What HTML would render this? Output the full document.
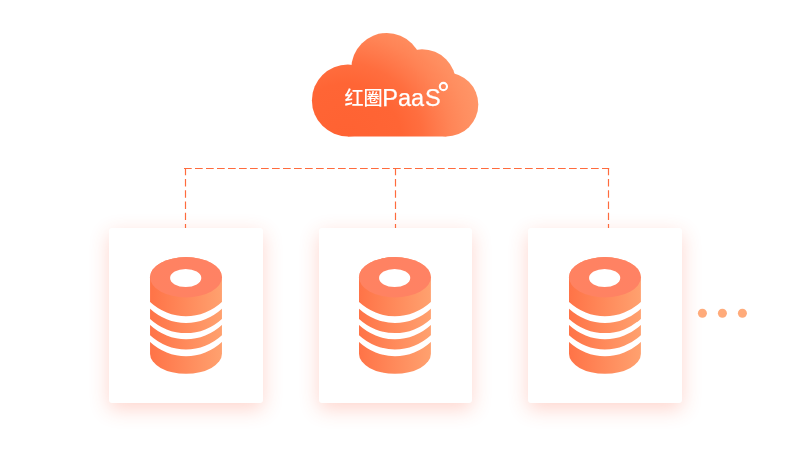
<!DOCTYPE html>
<html lang="zh-CN">
<head>
<meta charset="utf-8">
<title>红圈PaaS</title>
<style>
html,body{margin:0;padding:0;background:#fff;}
body{width:792px;height:459px;position:relative;overflow:hidden;font-family:"Liberation Sans","Noto Sans CJK SC",sans-serif;}
.card{position:absolute;top:228px;width:153.8px;height:174.8px;background:#fff;border-radius:3px;box-shadow:0 6px 20px rgba(255,80,45,0.24);}
#c1{left:109px}#c2{left:318.5px}#c3{left:528.1px}
svg{position:absolute;left:0;top:0;}
#art{will-change:transform;}
.lbl{font-family:"Liberation Sans","Noto Sans CJK SC",sans-serif;fill:#fff;}
</style>
</head>
<body>
<svg id="lines" width="792" height="459" viewBox="0 0 792 459">
  <g fill="none" stroke="#ff6b3d">
    <path d="M184 168.45H609.1" stroke-width="1.08" stroke-dasharray="7.7 3.3"/>
    <g stroke-width="1.18" stroke-dasharray="7.4 3.8">
      <path d="M185.5 167.9V229"/>
      <path d="M395.5 167.9V229"/>
      <path d="M608.5 167.9V229"/>
    </g>
  </g>
</svg>
<div class="card" id="c1"></div>
<div class="card" id="c2"></div>
<div class="card" id="c3"></div>
<svg id="art" width="792" height="459" viewBox="0 0 792 459">
  <defs>
    <radialGradient id="cg" gradientUnits="userSpaceOnUse" cx="345" cy="140" r="140">
      <stop offset="0" stop-color="#ff6232"/>
      <stop offset="0.4" stop-color="#ff6535"/>
      <stop offset="0.55" stop-color="#ff6e3f"/>
      <stop offset="0.65" stop-color="#ff794b"/>
      <stop offset="0.75" stop-color="#ff8456"/>
      <stop offset="0.87" stop-color="#ff8e60"/>
      <stop offset="1" stop-color="#ff9668"/>
    </radialGradient>
    <linearGradient id="side" x1="0" y1="0" x2="1" y2="0">
      <stop offset="0" stop-color="#ff7347"/>
      <stop offset="1" stop-color="#ffa16f"/>
    </linearGradient>
    <linearGradient id="topg" x1="0" y1="0" x2="1" y2="0">
      <stop offset="0" stop-color="#ff8261"/>
      <stop offset="1" stop-color="#ff8264"/>
    </linearGradient>
    <g id="db">
      <path d="M-35.95 0 A35.95 20.15 0 0 1 35.95 0 V76.4 A35.95 20.15 0 0 1 -35.95 76.4 Z" fill="url(#side)"/>
      <ellipse cx="0" cy="0" rx="35.95" ry="20.15" fill="url(#topg)"/>
      <ellipse cx="-0.3" cy="0.75" rx="15.6" ry="9.05" fill="#fff"/>
      <path d="M-36.2 24.60 A56 61 0 0 0 36.2 24.60 V31.20 A56 61 0 0 1 -36.2 31.20 Z" fill="#fff"/>
      <path d="M-36.2 41.40 A56 61 0 0 0 36.2 41.40 V47.60 A56 61 0 0 1 -36.2 47.60 Z" fill="#fff"/>
      <path d="M-36.2 57.70 A56 61 0 0 0 36.2 57.70 V64.50 A56 61 0 0 1 -36.2 64.50 Z" fill="#fff"/>
    </g>
  </defs>
  <!-- cloud -->
  <g fill="url(#cg)">
    <circle cx="347.9" cy="100.4" r="36"/>
    <circle cx="386.8" cy="68.5" r="35.5"/>
    <circle cx="422" cy="83.2" r="34"/>
    <circle cx="446.3" cy="104.5" r="32"/>
    <rect x="347.9" y="90" width="98.4" height="46.5"/>
  </g>
  <text class="lbl" x="344.4" y="106.3" font-size="23.5"><tspan font-size="19.2" font-weight="500" dy="-1.1">红圈</tspan><tspan x="382.35" dy="1.1" stroke="#fff" stroke-width="0.25">Paa</tspan><tspan dx="0.9" stroke="#fff" stroke-width="0.25">S</tspan></text>
  <circle cx="443.4" cy="86.5" r="3.6" fill="none" stroke="#fff" stroke-width="2.1"/>
  <!-- databases -->
  <use href="#db" x="186" y="277.25"/>
  <use href="#db" x="394.95" y="277.25"/>
  <use href="#db" x="604.95" y="277.25"/>
  <!-- dots -->
  <g fill="#ffab7b">
    <circle cx="702.4" cy="313.3" r="4.5"/>
    <circle cx="722.4" cy="313.3" r="4.5"/>
    <circle cx="742.4" cy="313.3" r="4.5"/>
  </g>
</svg>
</body>
</html>
